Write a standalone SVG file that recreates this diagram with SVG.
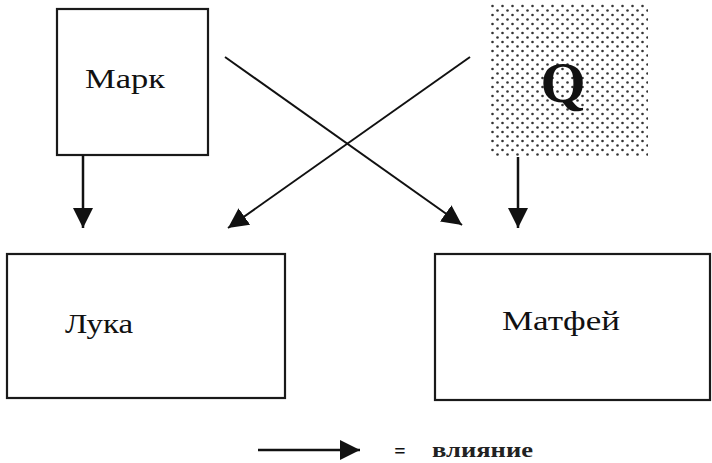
<svg xmlns="http://www.w3.org/2000/svg" width="712" height="463" viewBox="0 0 712 463">
<style>
.box{fill:#fff;stroke:#1a1a1a;stroke-width:2.2}
.lbl{font-family:"Liberation Serif","DejaVu Serif",serif;font-size:27px;fill:#111}
</style>
<defs>
<marker id="ahb" viewBox="0 0 20 20" refX="20" refY="10" markerWidth="20" markerHeight="20" markerUnits="userSpaceOnUse" orient="auto">
<path d="M0,0 L20,10 L0,20 Z" fill="#111"/>
</marker>
<pattern id="dots" width="10" height="9" patternUnits="userSpaceOnUse" x="490" y="4">
<circle cx="2.5" cy="2" r="1.3" fill="#333"/>
<circle cx="7.5" cy="6.5" r="1.3" fill="#333"/>
</pattern>
</defs>
<rect width="712" height="463" fill="#fff"/>
<g id="mark">
<rect class="box" x="57" y="9" width="151" height="146"/>
<text class="lbl" x="85" y="88" textLength="80" lengthAdjust="spacingAndGlyphs">Марк</text>
</g>
<g id="q">
<rect x="490" y="4" width="158" height="153" fill="url(#dots)"/>
<text x="563" y="102" text-anchor="middle" font-family="Liberation Serif,serif" font-weight="bold" font-size="58" fill="#111">Q</text>
</g>
<g id="luka">
<rect class="box" x="7" y="254" width="278" height="144"/>
<text class="lbl" x="65" y="333" textLength="68" lengthAdjust="spacingAndGlyphs">Лука</text>
</g>
<g id="matfey">
<rect class="box" x="435" y="254" width="275" height="146"/>
<text class="lbl" x="502" y="330" textLength="118" lengthAdjust="spacingAndGlyphs">Матфей</text>
</g>
<g id="connectors">
<line x1="83" y1="155" x2="83" y2="228" stroke="#111" stroke-width="2.5" marker-end="url(#ahb)"/>
<line x1="518" y1="157" x2="518" y2="228" stroke="#111" stroke-width="2.5" marker-end="url(#ahb)"/>
<line x1="225" y1="57" x2="462" y2="225" stroke="#111" stroke-width="2" marker-end="url(#ahb)"/>
<line x1="470" y1="57" x2="228" y2="228" stroke="#111" stroke-width="2" marker-end="url(#ahb)"/>
</g>
<g id="legend">
<line x1="258" y1="450" x2="360" y2="450" stroke="#111" stroke-width="2.5" marker-end="url(#ahb)"/>
<text x="400" y="458" text-anchor="middle" font-family="Liberation Serif,serif" font-weight="bold" font-size="20" fill="#111">=</text>
<text x="432" y="457" font-family="Liberation Serif,serif" font-weight="bold" font-size="20" fill="#222" textLength="101" lengthAdjust="spacingAndGlyphs">влияние</text>
</g>
</svg>
